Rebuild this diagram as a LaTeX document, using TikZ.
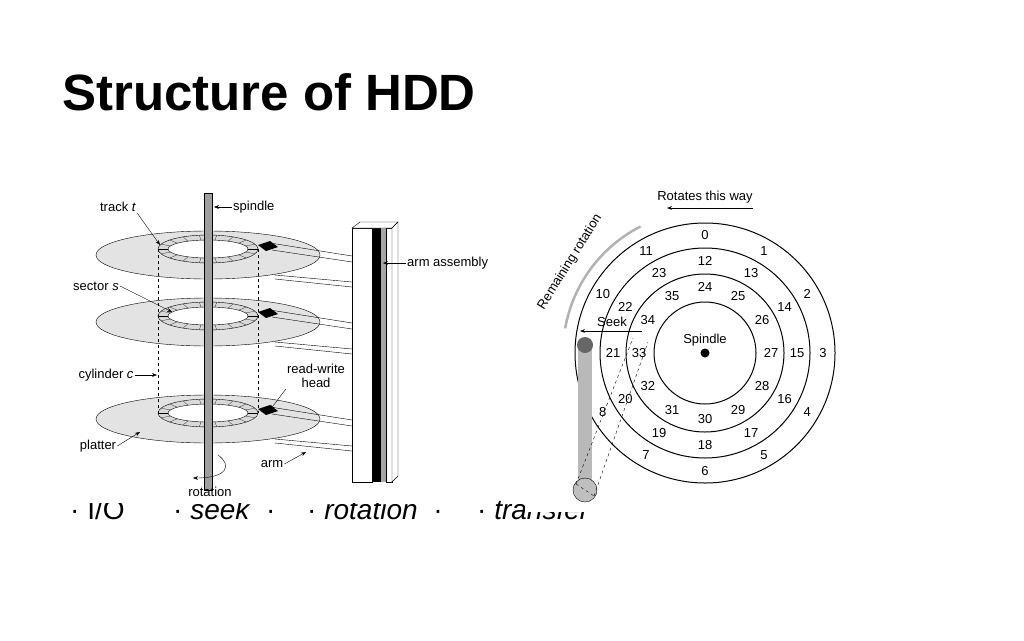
\documentclass[tikz,border=0pt]{standalone}
\usepackage{fontspec}
\setmainfont{Liberation Sans}
\usetikzlibrary{arrows.meta}
\newcommand{\diskX}{705}
\newcommand{\diskY}{353}
\tikzset{
  lbl/.style={font=\fontsize{13}{14}\selectfont, inner sep=1pt},
  num/.style={font=\fontsize{13}{14}\selectfont, inner sep=0pt},
  bul/.style={anchor=base west, inner sep=0pt, font=\fontsize{28}{30}\selectfont},
  pointer/.style={-{Stealth[length=5pt]}, thin},
  platter/.style={draw, fill=gray!22, thin},
  trackring/.style={draw, fill=gray!30, thin},
}
\begin{document}
\begin{tikzpicture}[x=1pt, y=-1pt]
  \useasboundingbox (0,0) rectangle (1024,640);
  \fill[white] (0,0) rectangle (1024,640);

  % Title
  \node[anchor=base west, inner sep=0pt, font=\bfseries\fontsize{51}{54}\selectfont] (title) at (62,110) {Structure of HDD};

  % Bullet line, half hidden by the pictures
  \node[bul] (b1) at (70,519) {\textperiodcentered\ I/O};
  \node[bul] (b2) at (173,519) {\textperiodcentered\ \textit{seek}\ \ \textperiodcentered};
  \node[bul] (b3) at (307,519) {\textperiodcentered\ \textit{rotation}\ \ \textperiodcentered};
  \node[bul] (b4) at (477,519) {\textperiodcentered\ \textit{transfer}};
  \fill[white] (52,185) rectangle (497,503);
  \fill[white] (525,185) rectangle (862,512);

  % Left: platters
  \foreach \py in {419,322,255} {
    \draw[platter] (208,\py) ellipse [x radius=112, y radius=24];
    \draw[trackring] (208,\py-6) ellipse [x radius=50, y radius=14];
    \draw[fill=white, thin] (208,\py-6) ellipse [x radius=40, y radius=9];
    \foreach \a in {0,20,...,340}
      \draw[very thin] ({208+40*cos(\a)},{\py-6+9*sin(\a)}) -- ({208+50*cos(\a)},{\py-6+14*sin(\a)});
    \fill[black] (258,\py-10) -- (270,\py-14) -- (278,\py-8) -- (266,\py-4) -- cycle;
    % arm
    \draw[thin] (270,\py-12) -- (352,\py+1);
    \draw[thin] (272,\py-5) -- (352,\py+7);
    \draw[thin] (275,\py+20) -- (352,\py+27);
    \draw[thin] (275,\py+24) -- (352,\py+32);
  }
  % spindle
  \draw[fill=gray!75, thin] (204,193) rectangle (212,490);
  % cylinder
  \draw[dashed, thin] (158,249) -- (158,413);
  \draw[dashed, thin] (258,249) -- (258,413);
  % arm assembly
  \draw[fill=white, thin] (352,228) rectangle (372,482);
  \fill[black] (372,228) rectangle (381,482);
  \fill[gray!70] (381,228) rectangle (386,482);
  \draw[fill=white, thin] (386,228) rectangle (392,482);
  \draw[fill=white, thin] (352,228) -- (360,222) -- (398,222) -- (392,228) -- cycle;
  \draw[fill=white, thin] (392,228) -- (398,222) -- (398,476) -- (392,482) -- cycle;

  % left labels
  \node[lbl] (track) at (118,207) {track \textit{t}};
  \draw[pointer] (track.south east) -- (160,245);
  \node[lbl, anchor=west] (spindle) at (232,207) {spindle};
  \draw[pointer] (spindle.west) -- (214,207);
  \node[lbl] (sector) at (96,286) {sector \textit{s}};
  \draw[pointer] (sector.east) -- (172,312);
  \node[lbl] (cylinder) at (106,375) {cylinder \textit{c}};
  \draw[pointer] (cylinder.east) -- (157,375);
  \node[lbl, align=center] (rwhead) at (316,376) {read-write\\head};
  \draw[pointer] (rwhead.south west) -- (270,410);
  \node[lbl] (platterlbl) at (98,446) {platter};
  \draw[pointer] (platterlbl.east) -- (140,432);
  \node[lbl] (arm) at (272,464) {arm};
  \draw[pointer] (arm.east) -- (306,452);
  \node[lbl] (rotation) at (210,492) {rotation};
  \draw[pointer] (218,455) .. controls (232,465) and (228,478) .. (193,478);
  \node[lbl, anchor=west] (assembly) at (406,263) {arm assembly};
  \draw[pointer] (assembly.west) -- (383,263);

  % Right: tracks
  \foreach \r in {130,105,79,51}
    \draw[line width=1pt] (\diskX,\diskY) circle [radius=\r];
  \fill[black] (\diskX,\diskY) circle [radius=4.5];
  \node[num] (spindlelbl) at (\diskX,\diskY-13) {Spindle};
  \foreach \n in {0,...,11} {
    \node[num] (o\n) at ({\diskX+118*sin(30*\n)},{\diskY-118*cos(30*\n)}) {\n};
  }
  \foreach \n in {0,...,11} {
    \pgfmathtruncatemacro{\k}{\n+12}
    \node[num] (m\k) at ({\diskX+92*sin(30*\n)},{\diskY-92*cos(30*\n)}) {\k};
  }
  \foreach \n in {0,...,11} {
    \pgfmathtruncatemacro{\k}{\n+24}
    \node[num] (i\k) at ({\diskX+66*sin(30*\n)},{\diskY-66*cos(30*\n)}) {\k};
  }
  % arm
  \fill[gray!55] (578,345) rectangle (592,490);
  \fill[gray!80!black] (585,345) circle [radius=8];
  \draw[fill=gray!50, thin] (585,490) circle [radius=12];
  \coordinate (pivot) at (585,490);
  \draw[dashed, thin] (576,484) -- (633,338);
  \draw[dashed, thin] (594,496) -- (648,342);
  \draw[dashed, thin] (576,484) -- (594,496);
  % seek
  \coordinate (seekfrom) at (642,331);
  \coordinate (seekto) at (580,331);
  \draw[pointer, line width=0.8pt] (seekfrom) -- (seekto);
  \node[num] (seek) at (612,322) {Seek};
  % remaining rotation
  \draw[gray!60, line width=2.5pt] ([shift={(-117:142)}]\diskX,\diskY) arc [start angle=-117, end angle=-170, radius=142];
  \node[num, rotate=58] (remaining) at (570,262) {Remaining rotation};
  % rotates this way
  \node[num] (rotates) at (705,197) {Rotates this way};
  \draw[pointer, line width=1pt] (753,208) -- (667,208);
\end{tikzpicture}
\end{document}
